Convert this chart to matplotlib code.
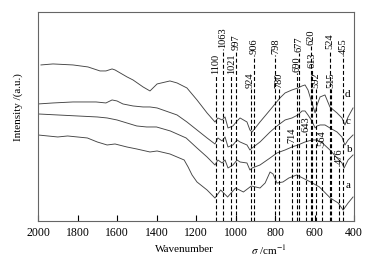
import matplotlib.pyplot as plt
import numpy as np

plt.rcParams['font.family'] = ['Liberation Serif', 'DejaVu Serif']
plt.rcParams['mathtext.fontset'] = 'stix'

# curve d (top)
wn_d = [1985, 1924, 1823, 1747, 1686, 1656, 1625, 1610, 1549, 1519, 1468, 1433, 1397, 1332, 1296, 1246,
        1195, 1144, 1104, 1089, 1068, 1053, 1038, 1013, 992, 977, 942, 927, 916, 876, 825, 800, 775,
        749, 714, 684, 663, 648, 633, 613, 597, 587, 572, 547, 522, 486, 461, 446, 430, 405]
int_d = [156, 157, 156, 154, 150, 150, 152, 151, 144, 141, 134, 130, 137, 140, 138, 133,
         121, 108, 99, 103, 101, 104, 93, 95, 100, 103, 99, 91, 89, 99, 111, 117, 123,
         128, 131, 133, 135, 136, 131, 118, 108, 116, 124, 126, 114, 108, 103, 96, 104, 113]

# curve c
wn_c = [2000, 1924, 1823, 1706, 1656, 1625, 1600, 1570, 1519, 1468, 1433, 1397, 1296, 1246, 1195, 1144,
        1104, 1089, 1068, 1053, 1038, 1013, 992, 977, 942, 927, 916, 876, 825, 790, 749, 714,
        684, 663, 648, 633, 613, 597, 587, 572, 547, 522, 486, 461, 446, 430, 405]
int_c = [117, 118, 119, 119, 118, 121, 120, 117, 115, 114, 114, 113, 106, 99, 91, 83,
         77, 83, 80, 84, 74, 76, 81, 79, 76, 71, 73, 79, 89, 95, 101, 103,
         106, 110, 110, 106, 100, 93, 95, 96, 96, 93, 89, 84, 76, 81, 86]

# curve b
wn_b = [2000, 1900, 1800, 1700, 1650, 1600, 1550, 1500, 1450, 1400, 1330, 1250, 1195, 1144, 1104, 1089,
        1068, 1053, 1038, 1013, 992, 977, 942, 927, 916, 876, 825, 790, 749, 714, 684, 648,
        613, 587, 560, 522, 486, 461, 450, 430, 405]
int_b = [107, 106, 105, 104, 103, 101, 98, 95, 94, 94, 90, 83, 73, 64, 56, 61,
         58, 61, 53, 56, 61, 59, 58, 51, 53, 56, 63, 68, 71, 74, 76, 79,
         81, 81, 78, 71, 63, 58, 53, 61, 66]

# curve a (bottom)
wn_a = [2000, 1950, 1900, 1850, 1800, 1750, 1700, 1650, 1610, 1550, 1500, 1433, 1397, 1332, 1260, 1240,
        1220, 1195, 1144, 1104, 1075, 1040, 1000, 960, 920, 876, 850, 825, 810, 790, 760, 730,
        690, 660, 620, 575, 520, 480, 455, 430, 405]
int_a = [86, 85, 84, 85, 84, 83, 79, 76, 77, 74, 72, 69, 70, 67, 61, 54,
         46, 39, 31, 23, 31, 24, 33, 29, 35, 33, 38, 49, 47, 38, 39, 43,
         46, 43, 39, 34, 23, 18, 11, 18, 24]

# marked bands and where their labels sit
peaks = [1100, 1063, 1021, 997, 924, 906, 798, 780, 714, 690,
         677, 643, 620, 613, 592, 564, 524, 515, 476, 455]
peak_tops = [146, 172, 146, 170, 132, 166, 166, 132, 77, 148,
             168, 88, 175, 152, 132, 74, 171, 132, 56, 166]

curve_names = ['a', 'b', 'c', 'd']
name_x = [430, 420, 430, 435]
name_y = [35, 71, 99, 126]

fig = plt.figure(figsize=(3.8, 2.65), dpi=100)
ax = fig.add_axes([0.1, 0.166, 0.8316, 0.789])

for wn, it in [(wn_a, int_a), (wn_b, int_b), (wn_c, int_c), (wn_d, int_d)]:
    ax.plot(wn, it, color='#444444', lw=0.65)

for p, top in zip(peaks, peak_tops):
    ax.plot([p, p], [0, top], color='black', lw=0.8, ls=(0, (3.5, 2)))
    ax.text(p, top + 1, str(p), rotation=90, ha='center', va='bottom', fontsize=7.5)

for n, x, y in zip(curve_names, name_x, name_y):
    ax.text(x, y, n, ha='center', va='center', fontsize=8)

ax.set_xlim(2000, 400)
ax.set_ylim(0, 209)
ax.set_xticks(np.arange(2000, 399, -200))
ax.set_yticks([])
ax.tick_params(axis='x', direction='in', length=4, width=0.8, labelsize=8.5, pad=4)
for s in ax.spines.values():
    s.set_color('#666666')
    s.set_linewidth(0.8)

fig.text(18 / 380, 1 - 107 / 265, 'Intensity /(a.u.)', rotation=90, ha='center', va='center', fontsize=8)
fig.text(214 / 380, 1 - 250 / 265, 'Wavenumber', ha='right', va='center', fontsize=8)
fig.text(251 / 380, 1 - 250 / 265, r'$\sigma$ /cm$^{-1}$', ha='left', va='center', fontsize=8)

fig.savefig('out.png', dpi=100)
